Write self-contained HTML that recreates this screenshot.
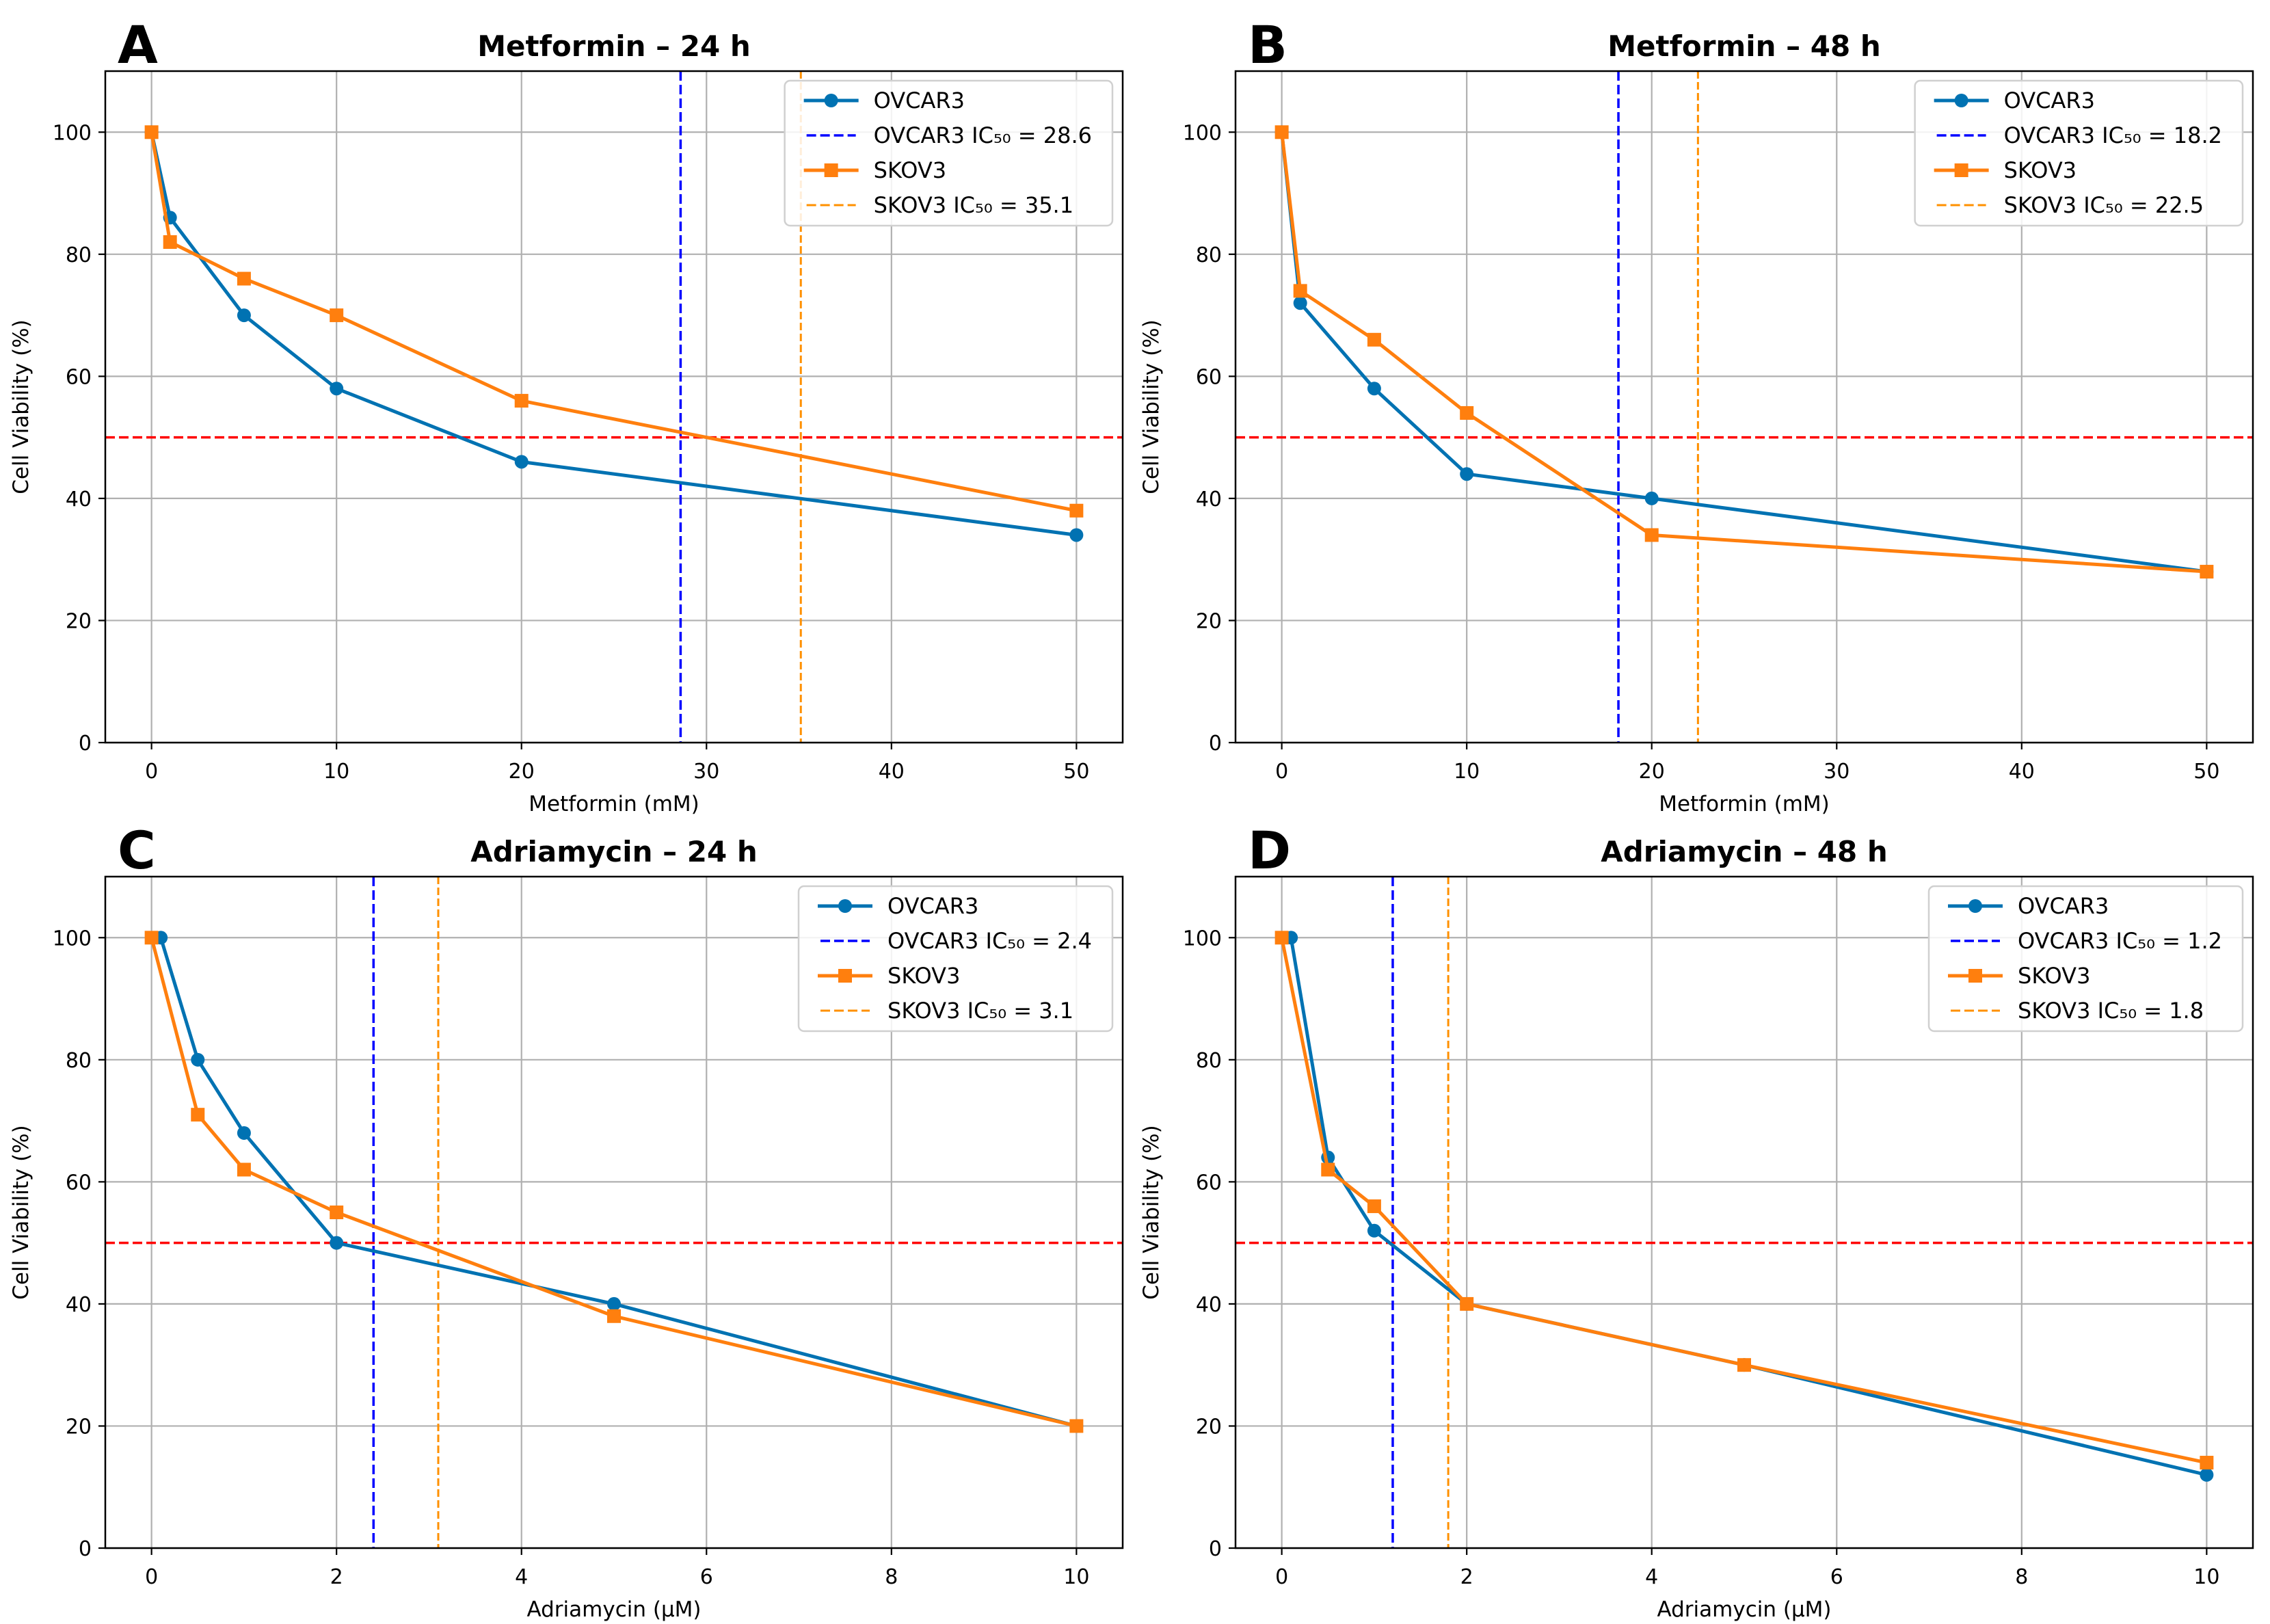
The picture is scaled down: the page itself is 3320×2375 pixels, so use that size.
<!DOCTYPE html>
<html><head><meta charset="utf-8"><style>
html,body{margin:0;padding:0;background:#fff}
svg{display:block}
text{font-family:"DejaVu Sans","Liberation Sans",sans-serif}
</style></head><body>
<svg id="fig" width="3320" height="2375" viewBox="0 0 3320 2375" xmlns="http://www.w3.org/2000/svg"></svg>
<script>
// ---- data ----
const metX = [0, 1, 5, 10, 20, 50];
const adrOvcarX = [0.1, 0.5, 1, 2, 5, 10];
const adrSkovX = [0, 0.5, 1, 2, 5, 10];
const aOvcar = [100, 86, 70, 58, 46, 34];
const aSkov = [100, 82, 76, 70, 56, 38];
const bOvcar = [100, 72, 58, 44, 40, 28];
const bSkov = [100, 74, 66, 54, 34, 28];
const cOvcar = [100, 80, 68, 50, 40, 20];
const cSkov = [100, 71, 62, 55, 38, 20];
const dOvcar = [100, 64, 52, 40, 30, 12];
const dSkov = [100, 62, 56, 40, 30, 14];
const icOvcar = [28.6, 18.2, 2.4, 1.2];
const icSkov = [35.1, 22.5, 3.1, 1.8];
const metTicks = [0, 10, 20, 30, 40, 50];
const adrTicks = [0, 2, 4, 6, 8, 10];
const yTicks = [0, 20, 40, 60, 80, 100];
const panelLetters = ['A', 'B', 'C', 'D'];
const panelTitles = ['Metformin – 24 h', 'Metformin – 48 h', 'Adriamycin – 24 h', 'Adriamycin – 48 h'];
const xTitles = ['Metformin (mM)', 'Metformin (mM)', 'Adriamycin (µM)', 'Adriamycin (µM)'];

const NS = 'http://www.w3.org/2000/svg';
const svg = document.getElementById('fig');
function mk(tag, attrs, parent) {
  const e = document.createElementNS(NS, tag);
  for (const k in attrs) e.setAttribute(k, attrs[k]);
  (parent || svg).appendChild(e);
  return e;
}
const BLUE = '#0072b2', ORANGE = '#ff7f0e';
const panels = [
  {L:154, T:104, ov:aOvcar, sk:aSkov, ox:metX, sx:metX, xmin:-2.5, xmax:52.5, ticks:metTicks},
  {L:1807, T:104, ov:bOvcar, sk:bSkov, ox:metX, sx:metX, xmin:-2.5, xmax:52.5, ticks:metTicks},
  {L:154, T:1282, ov:cOvcar, sk:cSkov, ox:adrOvcarX, sx:adrSkovX, xmin:-0.5, xmax:10.5, ticks:adrTicks},
  {L:1807, T:1282, ov:dOvcar, sk:dSkov, ox:adrOvcarX, sx:adrSkovX, xmin:-0.5, xmax:10.5, ticks:adrTicks}
];
const W = 1488, H = 982;
panels.forEach((p, i) => {
  const g = mk('g', {});
  
  
  const X = v => p.L + (v - p.xmin) / (p.xmax - p.xmin) * W;
  const Y = v => p.T + H - v / 110 * H;
  const B = p.T + H, R = p.L + W;
  p.ticks.forEach(t => {
    const l = mk('line', {x1:X(t), x2:X(t), y1:p.T, y2:B, stroke:'#b0b0b0', 'stroke-width':2.2}, g);
    
    
    mk('line', {x1:X(t), x2:X(t), y1:B, y2:B+10, stroke:'#000', 'stroke-width':2.2}, g);
    const tx = mk('text', {x:X(t), y:B+52, 'font-size':30, 'text-anchor':'middle'}, g);
    
    
    tx.textContent = t;
  });
  yTicks.forEach(t => {
    const l = mk('line', {x1:p.L, x2:R, y1:Y(t), y2:Y(t), stroke:'#b0b0b0', 'stroke-width':2.2}, g);
    
    
    mk('line', {x1:p.L-10, x2:p.L, y1:Y(t), y2:Y(t), stroke:'#000', 'stroke-width':2.2}, g);
    const tx = mk('text', {x:p.L-20, y:Y(t)+11, 'font-size':30, 'text-anchor':'end'}, g);
    
    
    tx.textContent = t;
  });
  const h50 = mk('line', {x1:p.L, x2:R, y1:Y(50), y2:Y(50), stroke:'#ff0000', 'stroke-width':3.5, 'stroke-dasharray':'14 6'}, g);
  
  
  const vb = mk('line', {x1:X(icOvcar[i]), x2:X(icOvcar[i]), y1:p.T, y2:B, stroke:'#0000ff', 'stroke-width':3.5, 'stroke-dasharray':'14 6'}, g);
  
  
  const vo = mk('line', {x1:X(icSkov[i]), x2:X(icSkov[i]), y1:p.T, y2:B, stroke:'#ff9000', 'stroke-width':3, 'stroke-dasharray':'11 5'}, g);
  
  
  const ovPl = mk('polyline', {points:p.ov.map((v,k)=>X(p.ox[k])+','+Y(v)).join(' '), fill:'none', stroke:BLUE, 'stroke-width':5, 'stroke-linejoin':'round'}, g);
  
  
  p.ov.forEach((v,k) => {
    const c = mk('circle', {cx:X(p.ox[k]), cy:Y(v), r:10, fill:BLUE}, g);
    
    
  });
  const skPl = mk('polyline', {points:p.sk.map((v,k)=>X(p.sx[k])+','+Y(v)).join(' '), fill:'none', stroke:ORANGE, 'stroke-width':5, 'stroke-linejoin':'round'}, g);
  
  
  p.sk.forEach((v,k) => {
    const s = mk('rect', {x:X(p.sx[k])-10, y:Y(v)-10, width:20, height:20, fill:ORANGE}, g);
    
    
  });
  const fr = mk('rect', {x:p.L, y:p.T, width:W, height:H, fill:'none', stroke:'#000', 'stroke-width':2.5}, g);
  
  
  const ti = mk('text', {x:p.L+W/2, y:p.T-22, 'font-size':42, 'font-weight':'bold', 'text-anchor':'middle'}, g);
  
  
  ti.textContent = panelTitles[i];
  const le = mk('text', {x:p.L+18, y:p.T-12, 'font-size':76, 'font-weight':'bold'}, g);
  
  
  le.textContent = panelLetters[i];
  const xt = mk('text', {x:p.L+W/2, y:B+100, 'font-size':31, 'text-anchor':'middle'}, g);
  
  
  xt.textContent = xTitles[i];
  const yt = mk('text', {x:0, y:0, 'font-size':31, 'text-anchor':'middle', transform:'translate('+(p.L-113)+','+(p.T+H/2)+') rotate(-90)'}, g);
  
  
  yt.textContent = 'Cell Viability (%)';
  const lg = mk('g', {}, g);
  
  
  const box = mk('rect', {x:0, y:p.T+14, width:100, height:212, rx:8, fill:'#fff', 'fill-opacity':0.85, stroke:'#d0d0d0', 'stroke-width':2.5}, lg);
  const labels = ['OVCAR3', 'OVCAR3 IC₅₀ = ' + icOvcar[i], 'SKOV3', 'SKOV3 IC₅₀ = ' + icSkov[i]];
  const texts = [];
  let maxW = 0;
  labels.forEach((lab, k) => {
    const t = mk('text', {x:0, y:p.T+54+k*51, 'font-size':32}, lg);
    
    
    t.textContent = lab;
    texts.push(t);
    maxW = Math.max(maxW, t.getComputedTextLength());
  });
  const bw = maxW + 160;
  const bx = R - 15 - bw;
  box.setAttribute('x', bx); box.setAttribute('width', bw);
  texts.forEach(t => t.setAttribute('x', bx + 130));
  const sx1 = bx + 28, sx2 = bx + 108, sm = (sx1+sx2)/2;
  const rows = [0,1,2,3].map(k => p.T + 43 + k*51);
  mk('line', {x1:sx1, x2:sx2, y1:rows[0], y2:rows[0], stroke:BLUE, 'stroke-width':5}, lg);
  mk('circle', {cx:sm, cy:rows[0], r:10, fill:BLUE}, lg);
  mk('line', {x1:sx1+4, x2:sx2-4, y1:rows[1], y2:rows[1], stroke:'#0000ff', 'stroke-width':3.5, 'stroke-dasharray':'14 6'}, lg);
  mk('line', {x1:sx1, x2:sx2, y1:rows[2], y2:rows[2], stroke:ORANGE, 'stroke-width':5}, lg);
  mk('rect', {x:sm-10, y:rows[2]-10, width:20, height:20, fill:ORANGE}, lg);
  mk('line', {x1:sx1+4, x2:sx2-4, y1:rows[3], y2:rows[3], stroke:'#ff9000', 'stroke-width':3, 'stroke-dasharray':'14 6'}, lg);
});
</script>
</body></html>
